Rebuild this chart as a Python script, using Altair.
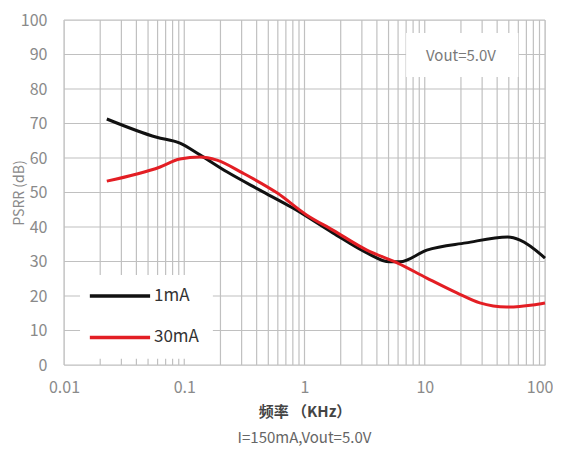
import altair as alt
import pandas as pd

# ---- data ----
freq_1ma = [0.0227, 0.059, 0.092, 0.135, 0.226, 0.425, 0.80, 1.72, 3.3, 5.1, 6.2, 10.4, 22, 49, 62, 100]
psrr_1ma = [71.3, 66.0, 64.3, 60.9, 56.0, 50.7, 45.5, 38.3, 32.5, 29.9, 29.9, 33.3, 35.4, 37.1, 36.2, 31.0]

freq_30ma = [0.0227, 0.063, 0.092, 0.135, 0.187, 0.308, 0.59, 1.04, 1.72, 3.3, 5.9, 10.4, 18.5, 28.7, 48, 79, 100]
psrr_30ma = [53.3, 57.4, 59.7, 60.3, 59.4, 55.6, 49.9, 43.5, 39.1, 33.3, 29.6, 25.2, 20.9, 18.0, 16.8, 17.4, 18.0]

series_names = ["1mA", "30mA"]
series_colors = ["#111111", "#e31e24"]

x_tick_values = [0.01, 0.1, 1, 10, 100]
x_grid_values = [0.01, 0.02, 0.03, 0.04, 0.05, 0.06, 0.07, 0.08, 0.09,
                 0.1, 0.2, 0.3, 0.4, 0.5, 0.6, 0.7, 0.8, 0.9,
                 1, 2, 3, 4, 5, 6, 7, 8, 9,
                 10, 20, 30, 40, 50, 60, 70, 80, 90, 100]
y_grid_values = [0, 10, 20, 30, 40, 50, 60, 70, 80, 90, 100]

# legend / annotation boxes (data coordinates)
box_x1 = [0.0136, 7.0]
box_x2 = [0.173, 60.0]
box_y1 = [1.8, 83.5]
box_y2 = [26.1, 96.2]

legend_y = [20, 8]
legend_x1 = 0.0164
legend_x2 = 0.052
legend_text_x = 0.056

note_text = "Vout=5.0V"
note_x = 20.0
note_y = 89.5

FONT = "Noto Sans CJK SC"

df = pd.DataFrame({
    "freq": freq_1ma + freq_30ma,
    "psrr": psrr_1ma + psrr_30ma,
    "series": ["1mA"] * len(freq_1ma) + ["30mA"] * len(freq_30ma),
})
gx = pd.DataFrame({"x": x_grid_values})
gy = pd.DataFrame({"y": y_grid_values})
boxes = pd.DataFrame({"x1": box_x1, "x2": box_x2, "y1": box_y1, "y2": box_y2})
leg = pd.DataFrame({"series": series_names, "y": legend_y,
                    "x1": [legend_x1] * 2, "x2": [legend_x2] * 2, "tx": [legend_text_x] * 2})
note = pd.DataFrame({"t": [note_text], "x": [note_x], "y": [note_y]})

xscale = alt.Scale(type="log", domain=[0.01, 100], nice=False)
yscale = alt.Scale(domain=[0, 100], nice=False)
cscale = alt.Scale(domain=series_names, range=series_colors)

xaxis = alt.Axis(values=x_tick_values, format="~g", grid=False, domain=False, ticks=False,
                 labelFontSize=16, labelColor="#8a8a8a", labelPadding=14, labelFont=FONT,
                 labelFlush=False,
                 labelAlign={"condition": {"test": "datum.value >= 99", "value": "right"}, "value": "center"},
                 labelOffset={"condition": {"test": "datum.value >= 99", "value": 8}, "value": 0},
                 titleFont=FONT, titleFontSize=15, titleColor="#444444",
                 titleFontWeight="bold", titlePadding=9)
yaxis = alt.Axis(values=y_grid_values, grid=False, domain=False, ticks=False,
                 labelFontSize=16, labelColor="#8a8a8a", labelPadding=17, labelFont=FONT,
                 titleFont=FONT, titleFontSize=14, titleColor="#8a8a8a",
                 titleFontWeight="normal", titleX=-45, titleBaseline="middle")
XT = "频率 （KHz）"
YT = "PSRR (dB)"


def X(f):
    return alt.X(f, scale=xscale, axis=xaxis, title=XT)


def Y(f):
    return alt.Y(f, scale=yscale, axis=yaxis, title=YT)


vgrid = alt.Chart(gx).mark_rule(color="#c0c0c0", strokeWidth=1.2).encode(x=X("x:Q"))
hgrid = alt.Chart(gy).mark_rule(color="#c0c0c0", strokeWidth=1.2).encode(y=Y("y:Q"))
rects = alt.Chart(boxes).mark_rect(color="white").encode(
    x=X("x1:Q"), x2="x2:Q", y=Y("y1:Q"), y2="y2:Q",
)
lines = alt.Chart(df).mark_line(strokeWidth=3, interpolate="monotone").encode(
    x=X("freq:Q"), y=Y("psrr:Q"),
    color=alt.Color("series:N", scale=cscale, legend=None),
)
leg_lines = alt.Chart(leg).mark_rule(strokeWidth=3.5).encode(
    x=X("x1:Q"), x2="x2:Q", y=Y("y:Q"),
    color=alt.Color("series:N", scale=cscale, legend=None),
)
leg_text = alt.Chart(leg).mark_text(align="left", baseline="middle", fontSize=17, font=FONT,
                                    color="#333333").encode(
    x=X("tx:Q"), y=Y("y:Q"), text="series:N",
)
note_mark = alt.Chart(note).mark_text(align="center", baseline="middle", fontSize=15, font=FONT,
                                      color="#7a7a7a").encode(
    x=X("x:Q"), y=Y("y:Q"), text="t:N",
)

chart = alt.layer(vgrid, hgrid, rects, lines, leg_lines, leg_text, note_mark).properties(
    width=481, height=345,
    autosize=alt.AutoSizeParams(type="none"),
    padding={"left": 56, "top": 12, "right": 8, "bottom": 81},
    title=alt.TitleParams(text="I=150mA,Vout=5.0V", orient="bottom", anchor="middle",
                          font=FONT, fontSize=15, color="#666666", fontWeight="normal", offset=12),
).configure_view(stroke="#8c8c8c", strokeWidth=2.5).configure(background="white")

chart.save("out.html", embed_options={"renderer": "svg", "actions": False})
